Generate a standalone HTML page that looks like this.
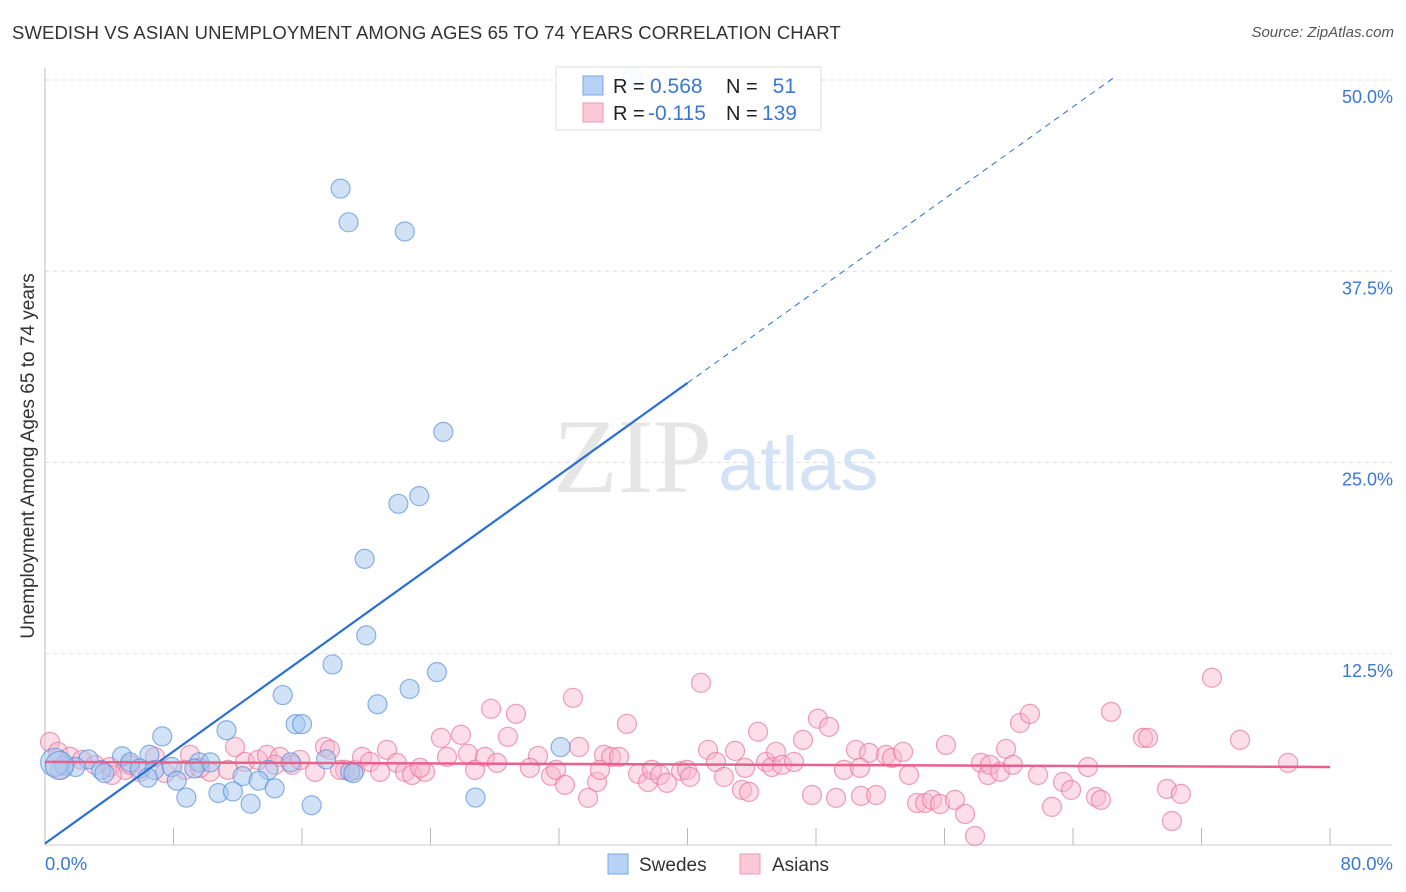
<!DOCTYPE html>
<html><head><meta charset="utf-8">
<style>
body{margin:0;background:#fff;font-family:"Liberation Sans",sans-serif;}
#wrap{position:relative;width:1406px;height:892px;overflow:hidden;}
.t{position:absolute;white-space:nowrap;}
</style></head>
<body>
<div id="wrap">
<div class="t" style="left:12px;top:22px;font-size:18.5px;color:#333;letter-spacing:0.1px;">SWEDISH VS ASIAN UNEMPLOYMENT AMONG AGES 65 TO 74 YEARS CORRELATION CHART</div>
<div class="t" style="right:12px;top:24px;font-size:15px;color:#555;font-style:italic;">Source: ZipAtlas.com</div>
<svg id="chart" width="1406" height="892" style="position:absolute;left:0;top:0"></svg>
</div>
<script>
const xTicks=[0,8,16,24,32,40,48,56,64,72,80];
const yTicks=[12.5,25,37.5,50];
const yTickLabels=["12.5%","25.0%","37.5%","50.0%"];
const swedesX=[18.4,18.9,22.4,24.8,23.3,22.0,19.9,20.0,17.9,24.4,22.7,14.8,20.7,15.6,16.0,11.3,7.3,32.1,17.5,6.5,4.8,2.7,1.2,1.9,3.5,3.7,5.3,5.9,6.8,7.9,9.6,10.3,9.3,13.9,15.3,19.0,6.4,8.2,12.3,13.3,10.8,11.7,14.3,8.8,12.8,16.6,26.8,36.6,19.2,0.6,0.9];
const swedesY=[42.9,40.7,40.1,27.0,22.8,22.3,18.7,13.7,11.8,11.3,10.2,9.8,9.2,7.9,7.9,7.5,7.1,6.4,5.6,5.9,5.8,5.6,5.2,5.1,4.9,4.7,5.4,5.0,4.9,5.1,5.4,5.4,5.0,4.9,5.4,4.8,4.4,4.2,4.5,4.2,3.4,3.5,3.7,3.1,2.7,2.6,3.1,50.2,4.7,5.4,5.2];
const asianPx=[[50,742],[58,752],[70,757],[82,760],[95,765],[110,767],[125,770],[140,772],[165,773],[112,775],[60,770],[190,755],[155,757],[235,747],[185,770],[210,772],[245,762],[258,760],[267,755],[280,757],[292,765],[300,760],[315,772],[325,747],[330,750],[345,770],[355,770],[362,757],[370,762],[380,772],[387,750],[397,763],[405,772],[412,775],[425,772],[441,738],[447,757],[461,735],[468,754],[475,770],[485,757],[491,709],[497,763],[516,714],[508,737],[538,756],[551,776],[556,770],[565,785],[573,698],[579,747],[588,798],[597,782],[604,755],[611,757],[619,757],[627,724],[638,774],[648,782],[652,770],[660,775],[667,783],[681,771],[687,770],[690,777],[701,683],[708,750],[716,762],[724,777],[735,751],[742,790],[749,792],[758,732],[766,762],[772,767],[776,752],[782,765],[794,762],[803,740],[812,795],[818,719],[829,727],[836,798],[844,770],[856,750],[861,796],[869,753],[876,795],[886,755],[892,758],[903,752],[909,775],[917,803],[925,803],[932,800],[940,804],[946,745],[955,800],[965,814],[975,836],[981,763],[988,775],[990,765],[1000,772],[1006,749],[1013,765],[1020,723],[1030,714],[1038,775],[1052,807],[1063,782],[1071,790],[1088,767],[1096,797],[1101,800],[1111,712],[1143,738],[1148,738],[1167,789],[1172,821],[1181,794],[1212,678],[1240,740],[1288,763],[130,765],[200,768],[228,770],[275,765],[340,770],[420,768],[530,768],[600,770],[745,768],[860,768]];
const asiansX=asianPx.map(p=>+((p[0]-45)*80/1285).toFixed(2));
const asiansY=asianPx.map(p=>+((845-p[1])/15.28).toFixed(2));
const swedesTrendX=[0,40,66.6];
const swedesTrendY=[0.1,30.2,50.2];
const asiansTrendX=[0,80];
const asiansTrendY=[5.43,5.1];

const X0=45,X1=1330,Y0=845,Y1=80;
const sx=v=>X0+(v/80)*(X1-X0);
const sy=v=>Y0-(v/50)*(Y0-Y1);
const svg=document.getElementById('chart');
const NS='http://www.w3.org/2000/svg';
function mk(tag,attrs){const e=document.createElementNS(NS,tag);for(const k in attrs)e.setAttribute(k,attrs[k]);svg.appendChild(e);return e;}

yTicks.forEach((v,i)=>{
  const g=mk('line',{x1:X0,x2:1392,y1:sy(v),y2:sy(v),stroke:'#ddd','stroke-dasharray':'4,4'});
  
  
  const t=mk('text',{x:1393,y:sy(v)+23,'text-anchor':'end','font-size':18,fill:'#3b78d4','font-family':'Liberation Sans, sans-serif'});
  t.textContent=yTickLabels[i];
  
  
});
const ax=mk('line',{x1:X0,x2:X0,y1:68,y2:845,stroke:'#bbb'});


const bx=mk('line',{x1:X0,x2:1392,y1:845,y2:845,stroke:'#ccc'});


xTicks.forEach(v=>{
  const l=mk('line',{x1:sx(v),x2:sx(v),y1:828,y2:845,stroke:'#bbb'});
  
  
});
const wm=mk('text',{x:553,y:492,'font-size':106,fill:'#e6e6e6','font-family':'Liberation Serif, serif'});
wm.textContent='ZIP';


const wm2=mk('text',{x:718,y:490,'font-size':76,fill:'#d3e2f5','font-family':'Liberation Sans, sans-serif'});
wm2.textContent='atlas';



asiansX.forEach((x,i)=>{
  const c=mk('circle',{cx:sx(x),cy:sy(asiansY[i]),r:9.5,fill:'rgba(248,182,205,0.45)',stroke:'rgba(230,110,150,0.65)','stroke-width':1.2});
  
  
});
swedesX.forEach((x,i)=>{
  const c=mk('circle',{cx:sx(x),cy:sy(swedesY[i]),r:(i>=49?14:9.5),fill:'rgba(164,198,240,0.5)',stroke:'rgba(80,140,220,0.65)','stroke-width':1.2});
  
  
});
const sl=mk('line',{x1:sx(swedesTrendX[0]),y1:sy(swedesTrendY[0]),x2:sx(swedesTrendX[1]),y2:sy(swedesTrendY[1]),stroke:'#2a6fd6','stroke-width':2.2});


const sd=mk('line',{x1:sx(swedesTrendX[1]),y1:sy(swedesTrendY[1]),x2:sx(swedesTrendX[2]),y2:sy(swedesTrendY[2]),stroke:'#2a6fd6','stroke-width':1,'stroke-dasharray':'6,5'});


const al=mk('line',{x1:sx(asiansTrendX[0]),y1:sy(asiansTrendY[0]),x2:sx(asiansTrendX[1]),y2:sy(asiansTrendY[1]),stroke:'#e8608c','stroke-width':2.5});



const lb=mk('rect',{x:556,y:67,width:265,height:63,fill:'rgba(255,255,255,0.9)',stroke:'#ddd'});


const r1=mk('rect',{x:583,y:76,width:20,height:19,fill:'#b7d2f5',stroke:'#7aa7e6'});


const r2=mk('rect',{x:583,y:103,width:20,height:19,fill:'#fbc8d8',stroke:'#ef9ab6'});


function txt(x,y,s,fill,name,size,anchor){const t=mk('text',{x:x,y:y,'font-size':size||20,fill:fill,'font-family':'Liberation Sans, sans-serif','text-anchor':anchor||'start'});t.textContent=s;return t;}
txt(613,93,'R =','#222','r-label');
txt(650,93,'0.568','#3b78d4','swedes-r',21);
txt(726,93,'N =','#222','n-label');
txt(796,93,'51','#3b78d4','swedes-n',21,'end');
txt(613,120,'R =','#222','r-label');
txt(648,120,'-0.115','#3b78d4','asians-r',21);
txt(726,120,'N =','#222','n-label');
txt(797,120,'139','#3b78d4','asians-n',21,'end');

txt(45,870,'0.0%','#3b78d4','x-min-label',18.5);
txt(1393,870,'80.0%','#3b78d4','x-max-label',18.5,'end');
const b1=mk('rect',{x:608,y:854,width:20,height:20,fill:'#b7d2f5',stroke:'#7aa7e6'});


txt(639,871,'Swedes','#333','legend-swedes',19);
const b2=mk('rect',{x:740,y:854,width:20,height:20,fill:'#fbc8d8',stroke:'#ef9ab6'});


txt(772,871,'Asians','#333','legend-asians',19);
const yt=txt(0,0,'Unemployment Among Ages 65 to 74 years','#333','y-axis-title',19,'middle');
yt.setAttribute('transform','translate(34,456) rotate(-90)');
</script>
</body></html>
